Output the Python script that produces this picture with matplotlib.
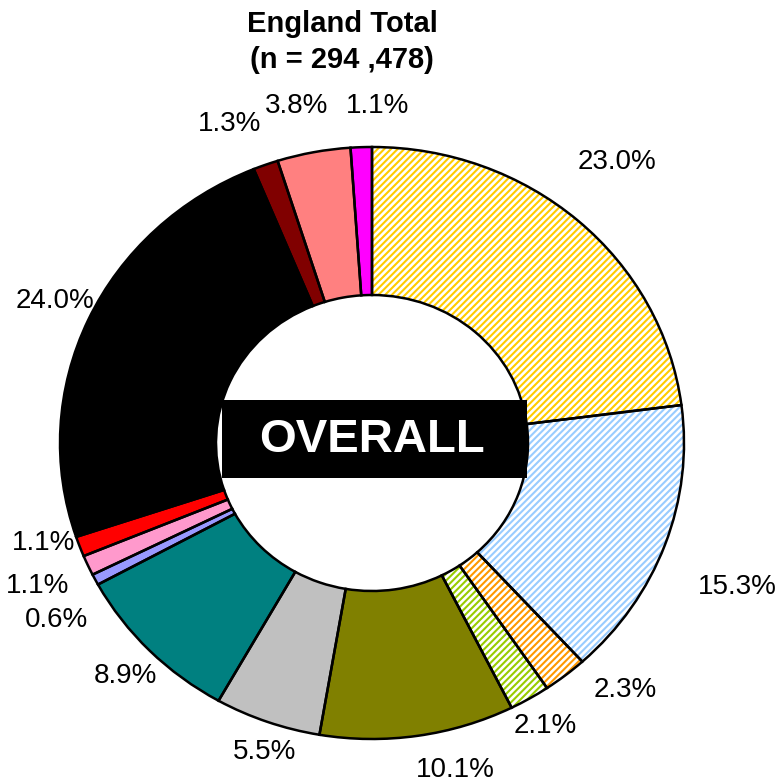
import matplotlib
matplotlib.use("Agg")
import matplotlib.pyplot as plt
from matplotlib.patches import Rectangle

# ---- data ----
values = [23.0, 15.3, 2.3, 2.1, 10.1, 5.5, 8.9, 0.6, 1.1, 1.1, 24.0, 1.3, 3.8, 1.1]
labels = ["23.0%", "15.3%", "2.3%", "2.1%", "10.1%", "5.5%", "8.9%",
          "0.6%", "1.1%", "1.1%", "24.0%", "1.3%", "3.8%", "1.1%"]
colors = ["#FFCC00", "#99CCFF", "#FF9900", "#99CC00", "#808000", "#C0C0C0", "#008080",
          "#9999FF", "#FF99CC", "#FF0000", "#000000", "#800000", "#FF8080", "#FF00FF"]
hatched = [True, True, True, True, False, False, False,
           False, False, False, False, False, False, False]
title = "England Total\n(n = 294 ,478)"
center_text = "OVERALL"

# ---- layout (pixel positions in the 783x783 figure, y from top) ----
W = H = 783
cx, cy = 372, 443
rx, ry = 312, 296
label_pos = [(617, 162), (737, 587), (625, 690), (545, 726), (455, 770), (265, 752),
             (125, 676), (57, 620), (38, 586), (44, 543), (55, 301), (230, 124),
             (297, 106), (378, 106)]

plt.rcParams['font.family'] = ['Liberation Sans', 'DejaVu Sans']
plt.rcParams['hatch.linewidth'] = 1.5

fig = plt.figure(figsize=(W / 100, H / 100), dpi=100)
ax = fig.add_axes([(cx - rx) / W, (H - cy - ry) / H, 2 * rx / W, 2 * ry / H])

face = ["white" if h else c for h, c in zip(hatched, colors)]
wedges, _ = ax.pie(values, colors=face, startangle=90, counterclock=False,
                   radius=1.0, wedgeprops=dict(width=0.5, linewidth=0))
for w, h, c in zip(wedges, hatched, colors):
    if h:
        w.set_hatch("/////")
        w.set_edgecolor(c)
        w.set_linewidth(0)
# outlines
ax.pie(values, colors=["none"] * len(values), startangle=90, counterclock=False,
       radius=1.0, wedgeprops=dict(width=0.5, linewidth=1.8, edgecolor="black",
                                   facecolor="none"))
ax.set_aspect("auto")
ax.set_xlim(-1, 1)
ax.set_ylim(-1, 1)
ax.axis("off")

for lab, (px, py) in zip(labels, label_pos):
    fig.text(px / W, 1 - py / H, lab, ha="center", va="center", fontsize=20, color="black")

fig.text(342 / W, 1 - 42 / H, title, ha="center", va="center", fontsize=21,
         fontweight="bold", linespacing=1.35)

# center box
bx0, bx1, by0, by1 = 222, 527, 400, 478
fig.patches.append(Rectangle((bx0 / W, 1 - by1 / H), (bx1 - bx0) / W, (by1 - by0) / H,
                             transform=fig.transFigure, facecolor="black",
                             edgecolor="none", zorder=5))
fig.text(372 / W, 1 - 440 / H, center_text, ha="center", va="center", fontsize=34,
         fontweight="bold", color="white", zorder=6)

fig.savefig("out.png", dpi=100)
